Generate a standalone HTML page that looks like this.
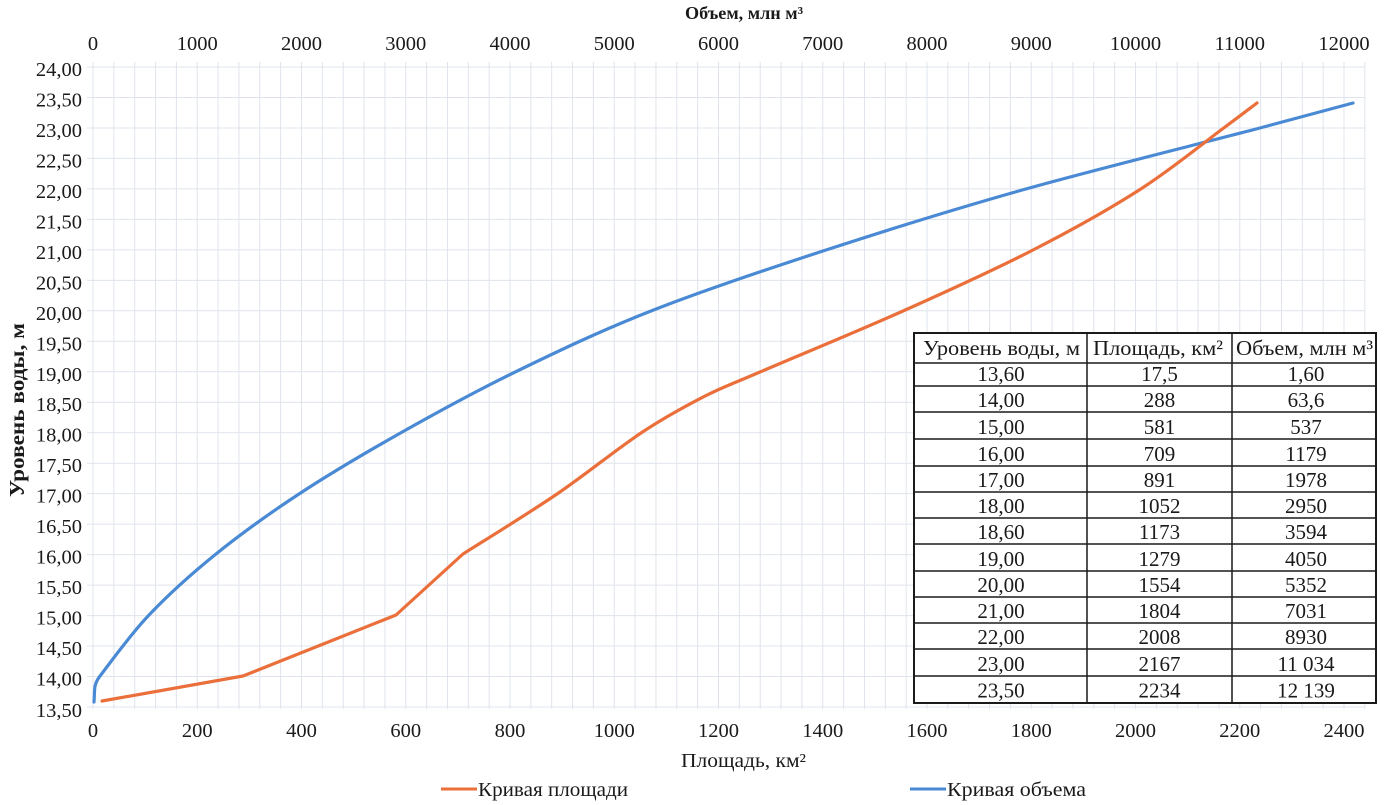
<!DOCTYPE html>
<html>
<head>
<meta charset="utf-8">
<style>
  html,body{margin:0;padding:0;background:#fff;}
  svg{display:block;}
  text{font-family:"Liberation Serif","DejaVu Serif",serif;fill:#1a1a1a;}
</style>
</head>
<body>
<svg width="1392" height="805" viewBox="0 0 1392 805" xmlns="http://www.w3.org/2000/svg">
  <rect x="0" y="0" width="1392" height="805" fill="#ffffff"/>

  <!-- vertical grid lines -->
  <g stroke="#dfe4ec" stroke-width="1">
    <line x1="93" y1="62" x2="93" y2="709"/><line x1="113.85" y1="62" x2="113.85" y2="709"/><line x1="134.7" y1="62" x2="134.7" y2="709"/><line x1="155.55" y1="62" x2="155.55" y2="709"/><line x1="176.4" y1="62" x2="176.4" y2="709"/><line x1="197.25" y1="62" x2="197.25" y2="709"/><line x1="218.1" y1="62" x2="218.1" y2="709"/><line x1="238.95" y1="62" x2="238.95" y2="709"/><line x1="259.8" y1="62" x2="259.8" y2="709"/><line x1="280.65" y1="62" x2="280.65" y2="709"/><line x1="301.5" y1="62" x2="301.5" y2="709"/><line x1="322.35" y1="62" x2="322.35" y2="709"/><line x1="343.2" y1="62" x2="343.2" y2="709"/><line x1="364.05" y1="62" x2="364.05" y2="709"/><line x1="384.9" y1="62" x2="384.9" y2="709"/><line x1="405.75" y1="62" x2="405.75" y2="709"/><line x1="426.6" y1="62" x2="426.6" y2="709"/><line x1="447.45" y1="62" x2="447.45" y2="709"/><line x1="468.3" y1="62" x2="468.3" y2="709"/><line x1="489.15" y1="62" x2="489.15" y2="709"/><line x1="510" y1="62" x2="510" y2="709"/><line x1="530.85" y1="62" x2="530.85" y2="709"/><line x1="551.7" y1="62" x2="551.7" y2="709"/><line x1="572.55" y1="62" x2="572.55" y2="709"/><line x1="593.4" y1="62" x2="593.4" y2="709"/><line x1="614.25" y1="62" x2="614.25" y2="709"/><line x1="635.1" y1="62" x2="635.1" y2="709"/><line x1="655.95" y1="62" x2="655.95" y2="709"/><line x1="676.8" y1="62" x2="676.8" y2="709"/><line x1="697.65" y1="62" x2="697.65" y2="709"/><line x1="718.5" y1="62" x2="718.5" y2="709"/><line x1="739.35" y1="62" x2="739.35" y2="709"/><line x1="760.2" y1="62" x2="760.2" y2="709"/><line x1="781.05" y1="62" x2="781.05" y2="709"/><line x1="801.9" y1="62" x2="801.9" y2="709"/><line x1="822.75" y1="62" x2="822.75" y2="709"/><line x1="843.6" y1="62" x2="843.6" y2="709"/><line x1="864.45" y1="62" x2="864.45" y2="709"/><line x1="885.3" y1="62" x2="885.3" y2="709"/><line x1="906.15" y1="62" x2="906.15" y2="709"/><line x1="927" y1="62" x2="927" y2="709"/><line x1="947.85" y1="62" x2="947.85" y2="709"/><line x1="968.7" y1="62" x2="968.7" y2="709"/><line x1="989.55" y1="62" x2="989.55" y2="709"/><line x1="1010.4" y1="62" x2="1010.4" y2="709"/><line x1="1031.25" y1="62" x2="1031.25" y2="709"/><line x1="1052.1" y1="62" x2="1052.1" y2="709"/><line x1="1072.95" y1="62" x2="1072.95" y2="709"/><line x1="1093.8" y1="62" x2="1093.8" y2="709"/><line x1="1114.65" y1="62" x2="1114.65" y2="709"/><line x1="1135.5" y1="62" x2="1135.5" y2="709"/><line x1="1156.35" y1="62" x2="1156.35" y2="709"/><line x1="1177.2" y1="62" x2="1177.2" y2="709"/><line x1="1198.05" y1="62" x2="1198.05" y2="709"/><line x1="1218.9" y1="62" x2="1218.9" y2="709"/><line x1="1239.75" y1="62" x2="1239.75" y2="709"/><line x1="1260.6" y1="62" x2="1260.6" y2="709"/><line x1="1281.45" y1="62" x2="1281.45" y2="709"/><line x1="1302.3" y1="62" x2="1302.3" y2="709"/><line x1="1323.15" y1="62" x2="1323.15" y2="709"/><line x1="1344" y1="62" x2="1344" y2="709"/><line x1="1364.85" y1="62" x2="1364.85" y2="709"/>
  </g>
  <!-- horizontal grid lines -->
  <g stroke="#dfe4ec" stroke-width="1">
    <line x1="87" y1="67" x2="1365" y2="67"/><line x1="87" y1="97.48" x2="1365" y2="97.48"/><line x1="87" y1="127.95" x2="1365" y2="127.95"/><line x1="87" y1="158.43" x2="1365" y2="158.43"/><line x1="87" y1="188.9" x2="1365" y2="188.9"/><line x1="87" y1="219.38" x2="1365" y2="219.38"/><line x1="87" y1="249.86" x2="1365" y2="249.86"/><line x1="87" y1="280.33" x2="1365" y2="280.33"/><line x1="87" y1="310.81" x2="1365" y2="310.81"/><line x1="87" y1="341.29" x2="1365" y2="341.29"/><line x1="87" y1="371.76" x2="1365" y2="371.76"/><line x1="87" y1="402.24" x2="1365" y2="402.24"/><line x1="87" y1="432.71" x2="1365" y2="432.71"/><line x1="87" y1="463.19" x2="1365" y2="463.19"/><line x1="87" y1="493.67" x2="1365" y2="493.67"/><line x1="87" y1="524.14" x2="1365" y2="524.14"/><line x1="87" y1="554.62" x2="1365" y2="554.62"/><line x1="87" y1="585.1" x2="1365" y2="585.1"/><line x1="87" y1="615.57" x2="1365" y2="615.57"/><line x1="87" y1="646.05" x2="1365" y2="646.05"/><line x1="87" y1="676.52" x2="1365" y2="676.52"/><line x1="87" y1="707" x2="1365" y2="707"/>
  </g>

  <!-- top axis labels -->
  <g font-size="20.5" text-anchor="middle">
    <text x="93" y="50">0</text><text x="197.25" y="50">1000</text><text x="301.5" y="50">2000</text><text x="405.75" y="50">3000</text><text x="510" y="50">4000</text><text x="614.25" y="50">5000</text><text x="718.5" y="50">6000</text><text x="822.75" y="50">7000</text><text x="927" y="50">8000</text><text x="1031.25" y="50">9000</text><text x="1135.5" y="50">10000</text><text x="1239.75" y="50">11000</text><text x="1344" y="50">12000</text>
  </g>
  <!-- bottom axis labels -->
  <g font-size="20.5" text-anchor="middle">
    <text x="93" y="737">0</text><text x="197.25" y="737">200</text><text x="301.5" y="737">400</text><text x="405.75" y="737">600</text><text x="510" y="737">800</text><text x="614.25" y="737">1000</text><text x="718.5" y="737">1200</text><text x="822.75" y="737">1400</text><text x="927" y="737">1600</text><text x="1031.25" y="737">1800</text><text x="1135.5" y="737">2000</text><text x="1239.75" y="737">2200</text><text x="1344" y="737">2400</text>
  </g>
  <!-- left axis labels -->
  <g font-size="20.5" text-anchor="end">
    <text x="82" y="76">24,00</text><text x="82" y="106.5">23,50</text><text x="82" y="137">23,00</text><text x="82" y="167.4">22,50</text><text x="82" y="197.9">22,00</text><text x="82" y="228.4">21,50</text><text x="82" y="258.9">21,00</text><text x="82" y="289.3">20,50</text><text x="82" y="319.8">20,00</text><text x="82" y="350.3">19,50</text><text x="82" y="380.8">19,00</text><text x="82" y="411.2">18,50</text><text x="82" y="441.7">18,00</text><text x="82" y="472.2">17,50</text><text x="82" y="502.7">17,00</text><text x="82" y="533.1">16,50</text><text x="82" y="563.6">16,00</text><text x="82" y="594.1">15,50</text><text x="82" y="624.6">15,00</text><text x="82" y="655">14,50</text><text x="82" y="685.5">14,00</text><text x="82" y="717">13,50</text>
  </g>

  <!-- axis titles -->
  <text x="744" y="19" font-size="18" font-weight="bold" text-anchor="middle" textLength="118" lengthAdjust="spacingAndGlyphs">Объем, млн м³</text>
  <text x="743.5" y="767" font-size="20" text-anchor="middle" textLength="125" lengthAdjust="spacingAndGlyphs">Площадь, км²</text>
  <text transform="translate(24,410) rotate(-90)" font-size="21" font-weight="bold" text-anchor="middle" textLength="174" lengthAdjust="spacingAndGlyphs">Уровень воды, м</text>

  <!-- blue volume curve -->
  <path fill="none" stroke="#4a8ad4" stroke-width="3.2" stroke-linecap="round" stroke-linejoin="round"
    d="M94,702 L94.6,690 C94.6,685.5 96.5,680.6 100,676
       C108.92,664.5 129.67,635.33 149,615
       C168.33,594.67 191,574.17 216,554
       C241,533.83 268.25,514.17 299,494
       C329.75,473.83 364.47,453.33 400.5,433
       C436.53,412.67 473.45,392.33 515.2,372
       C556.95,351.67 599.2,331.33 651,311
       C702.8,290.67 763.83,270.25 826,250
       C888.17,229.75 952,209.75 1024,189.5
       C1096,169.25 1203.17,142.92 1258,128.5
       C1312.83,114.08 1337.17,107.25 1353,103"/>

  <!-- orange area curve -->
  <path fill="none" stroke="#eb6f3a" stroke-width="3.2" stroke-linecap="round" stroke-linejoin="round"
    d="M102,701 L243,676 L396,615 L463,554
       C478.67,544 527.33,514.17 557,494
       C586.7,473.8 616.5,449.2 641,433
       C665.5,416.8 684.2,406.8 704,396.6
       C723.8,386.4 726.8,386.3 760,372
       C793.17,357.73 857.5,331.33 903,311
       C948.5,290.67 993.5,270.25 1033,250
       C1072.5,229.75 1108.33,209.75 1140,189.5
       C1171.67,169.25 1203.5,142.92 1223,128.5
       C1242.5,114.08 1251.33,107.25 1257,103"/>

  <!-- data table -->
  <rect x="914" y="333" width="462" height="370" fill="#ffffff" stroke="#1a1a1a" stroke-width="2"/>
  <g stroke="#1a1a1a" stroke-width="1.5">
    <line x1="1087" y1="333" x2="1087" y2="703"/>
    <line x1="1232" y1="333" x2="1232" y2="703"/>
    <line x1="914" y1="363" x2="1376" y2="363"/>
    <line x1="914" y1="386" x2="1376" y2="386"/>
    <line x1="914" y1="412" x2="1376" y2="412"/>
    <line x1="914" y1="439" x2="1376" y2="439"/>
    <line x1="914" y1="466" x2="1376" y2="466"/>
    <line x1="914" y1="492" x2="1376" y2="492"/>
    <line x1="914" y1="518" x2="1376" y2="518"/>
    <line x1="914" y1="544" x2="1376" y2="544"/>
    <line x1="914" y1="571" x2="1376" y2="571"/>
    <line x1="914" y1="597" x2="1376" y2="597"/>
    <line x1="914" y1="623" x2="1376" y2="623"/>
    <line x1="914" y1="649" x2="1376" y2="649"/>
    <line x1="914" y1="676" x2="1376" y2="676"/>
  </g>
  <g font-size="21">
    <text x="923" y="355" textLength="157" lengthAdjust="spacingAndGlyphs">Уровень воды, м</text>
    <text x="1093" y="355" textLength="130" lengthAdjust="spacingAndGlyphs">Площадь, км²</text>
    <text x="1236" y="355" textLength="137" lengthAdjust="spacingAndGlyphs">Объем, млн м³</text>
  </g>
  <g font-size="21" text-anchor="middle">
    <text x="1001" y="381">13,60</text><text x="1159.5" y="381">17,5</text><text x="1306" y="381">1,60</text>
    <text x="1001" y="407">14,00</text><text x="1159.5" y="407">288</text><text x="1306" y="407">63,6</text>
    <text x="1001" y="434">15,00</text><text x="1159.5" y="434">581</text><text x="1306" y="434">537</text>
    <text x="1001" y="461">16,00</text><text x="1159.5" y="461">709</text><text x="1306" y="461">1179</text>
    <text x="1001" y="487">17,00</text><text x="1159.5" y="487">891</text><text x="1306" y="487">1978</text>
    <text x="1001" y="513">18,00</text><text x="1159.5" y="513">1052</text><text x="1306" y="513">2950</text>
    <text x="1001" y="539">18,60</text><text x="1159.5" y="539">1173</text><text x="1306" y="539">3594</text>
    <text x="1001" y="566">19,00</text><text x="1159.5" y="566">1279</text><text x="1306" y="566">4050</text>
    <text x="1001" y="592">20,00</text><text x="1159.5" y="592">1554</text><text x="1306" y="592">5352</text>
    <text x="1001" y="618">21,00</text><text x="1159.5" y="618">1804</text><text x="1306" y="618">7031</text>
    <text x="1001" y="644">22,00</text><text x="1159.5" y="644">2008</text><text x="1306" y="644">8930</text>
    <text x="1001" y="671">23,00</text><text x="1159.5" y="671">2167</text><text x="1306" y="671">11 034</text>
    <text x="1001" y="697.5">23,50</text><text x="1159.5" y="697.5">2234</text><text x="1306" y="697.5">12 139</text>
  </g>

  <!-- legend -->
  <line x1="441" y1="789" x2="477" y2="789" stroke="#eb6f3a" stroke-width="3"/>
  <text x="478" y="796" font-size="20" textLength="150" lengthAdjust="spacingAndGlyphs">Кривая площади</text>
  <line x1="910" y1="789" x2="946" y2="789" stroke="#4a8ad4" stroke-width="3"/>
  <text x="947" y="796" font-size="20" textLength="139" lengthAdjust="spacingAndGlyphs">Кривая объема</text>
</svg>
</body>
</html>
